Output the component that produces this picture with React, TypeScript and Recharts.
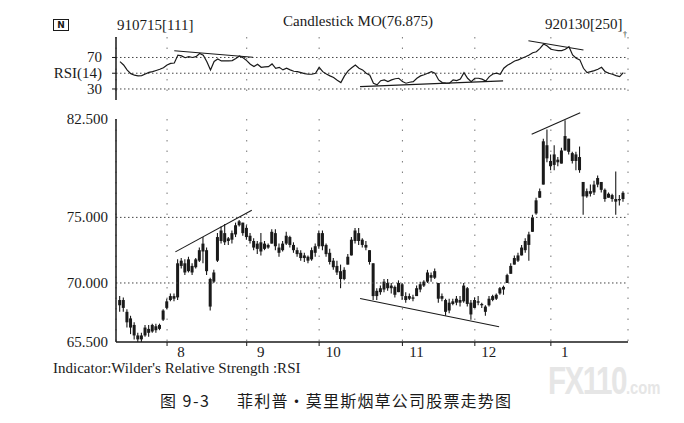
import React from "react"
import { ComposedChart, Bar, Line, XAxis, YAxis, CartesianGrid, ReferenceLine } from "recharts"

const startLabel = "910715[111]"
const endLabel = "920130[250]"
const title = "Candlestick MO(76.875)"

const opens = [
  68.3, 68.7, 67.8, 67.3, 66.8, 66.0, 65.7, 66.0, 66.5, 66.3, 66.7, 66.5, 67.2, 68.1, 68.7, 69.0, 68.9, 71.3, 71.5, 70.9,
  71.3, 71.2, 71.7, 72.4, 72.5, 70.3, 70.1, 71.7, 73.2, 73.8, 73.2, 73.3, 73.7, 74.4, 74.6, 74.2, 73.6, 73.2, 72.6, 73.1,
  72.6, 72.9, 73.0, 73.8, 72.7, 72.5, 73.0, 73.5, 72.9, 72.5, 72.3, 71.9, 72.0, 71.8, 72.3, 72.8, 73.8, 72.9, 72.3, 71.7,
  71.3, 70.9, 70.3, 71.4, 72.1, 73.2, 73.8, 73.3, 72.9, 72.5, 71.5, 69.0, 69.3, 69.5, 70.0, 69.6, 69.7, 69.3, 69.9, 69.0,
  68.8, 68.9, 69.0, 69.5, 69.8, 70.1, 70.6, 70.4, 70.0, 68.8, 68.7, 67.9, 68.4, 68.5, 68.7, 68.6, 69.6, 68.5, 68.1, 68.6,
  68.4, 68.2, 68.3, 68.7, 68.8, 69.2, 69.5, 70.0, 70.7, 71.4, 71.7, 72.1, 72.5, 72.9, 73.9, 75.3, 76.5, 77.5, 80.5, 79.3,
  79.0, 79.4, 79.1, 80.1, 81.0, 79.9, 79.3, 79.6, 77.7, 76.6, 77.0, 76.9, 77.5, 77.7, 77.1, 76.5, 76.7, 76.4, 76.3, 76.4,
]
const highs = [
  69.0, 68.9, 68.0, 67.5, 67.0, 66.2, 66.2, 66.8, 66.8, 66.9, 66.9, 66.9, 68.0, 68.8, 69.2, 69.2, 71.8, 71.9, 71.8, 72.0,
  71.5, 71.9, 72.7, 73.5, 72.7, 70.4, 71.0, 73.8, 74.3, 74.5, 73.5, 74.0, 74.6, 74.8, 74.6, 74.4, 73.8, 73.4, 73.2, 73.8,
  73.2, 73.0, 74.1, 74.1, 73.0, 73.2, 73.9, 73.6, 73.1, 72.7, 72.5, 72.3, 72.1, 72.7, 73.0, 74.0, 74.0, 73.0, 72.6, 71.9,
  71.7, 71.4, 71.2, 72.2, 73.5, 74.2, 74.2, 73.4, 73.2, 72.5, 71.5, 69.6, 69.8, 70.3, 70.3, 70.0, 69.8, 70.2, 70.0, 69.3,
  69.2, 69.1, 69.8, 70.1, 70.2, 71.0, 70.8, 71.1, 70.0, 69.2, 68.8, 68.8, 68.8, 69.0, 69.0, 70.0, 69.7, 68.7, 68.9, 69.0,
  68.5, 68.3, 69.0, 69.1, 69.2, 69.7, 69.8, 70.7, 71.5, 72.1, 72.3, 72.9, 73.4, 73.9, 75.2, 76.5, 77.2, 81.0, 81.7, 79.8,
  80.5, 79.6, 80.3, 82.4, 81.0, 80.0, 80.0, 80.4, 77.7, 77.2, 77.5, 77.8, 78.2, 77.7, 77.2, 76.9, 76.8, 78.5, 76.7, 77.0,
]
const lows = [
  67.8, 67.8, 66.6, 66.1, 65.7, 65.5, 65.5, 65.9, 65.9, 66.2, 66.2, 66.4, 67.1, 68.0, 68.6, 68.6, 68.7, 71.1, 70.6, 70.8,
  70.6, 71.1, 71.6, 71.5, 70.6, 67.9, 70.0, 71.6, 73.0, 72.9, 72.9, 73.0, 73.5, 74.3, 73.6, 73.3, 73.0, 72.5, 72.2, 72.1,
  72.5, 72.6, 73.0, 72.5, 72.0, 72.4, 72.9, 72.7, 72.3, 72.0, 71.7, 71.6, 71.5, 71.7, 72.0, 72.6, 72.5, 72.0, 71.4, 71.0,
  70.6, 69.6, 70.2, 71.4, 72.1, 73.0, 72.9, 72.7, 72.5, 71.4, 68.7, 68.7, 69.1, 69.3, 69.4, 69.2, 68.9, 69.3, 68.7, 68.5,
  68.7, 68.6, 69.0, 69.3, 69.7, 70.0, 70.1, 70.3, 68.5, 68.6, 67.5, 67.7, 68.3, 68.3, 68.2, 68.5, 68.2, 67.2, 68.1, 68.3,
  68.1, 67.5, 68.2, 68.6, 68.7, 69.1, 69.1, 70.0, 70.7, 71.4, 71.6, 72.1, 72.3, 71.7, 73.9, 75.2, 76.5, 77.5, 79.2, 78.6,
  78.6, 78.9, 79.1, 80.1, 79.8, 79.1, 78.6, 78.4, 75.2, 76.5, 76.6, 76.7, 77.3, 76.9, 76.2, 76.5, 76.2, 75.2, 75.9, 76.2,
]
const closes = [
  68.7, 68.1, 67.0, 66.6, 66.0, 65.7, 66.0, 66.6, 66.2, 66.8, 66.4, 66.8, 67.9, 68.6, 69.0, 68.8, 71.5, 71.7, 70.8, 71.8,
  70.8, 71.8, 72.5, 73.0, 70.9, 68.2, 70.8, 73.5, 74.0, 73.1, 73.4, 73.8, 74.4, 74.7, 73.8, 73.5, 73.2, 72.7, 73.0, 72.4,
  73.0, 72.7, 73.9, 72.8, 72.3, 73.0, 73.6, 72.9, 72.5, 72.2, 71.9, 72.1, 71.7, 72.5, 72.8, 73.8, 72.8, 72.2, 71.6, 71.2,
  70.8, 70.3, 71.0, 72.0, 73.3, 74.0, 73.2, 72.9, 72.7, 71.6, 69.0, 69.4, 69.6, 70.1, 69.6, 69.8, 69.1, 70.0, 69.0, 68.7,
  69.0, 68.8, 69.6, 69.9, 70.1, 70.8, 70.4, 70.9, 68.8, 69.0, 67.8, 68.5, 68.6, 68.8, 68.5, 69.8, 68.4, 67.6, 68.7, 68.5,
  68.3, 67.8, 68.8, 69.0, 69.1, 69.6, 69.7, 70.6, 71.3, 71.9, 72.1, 72.7, 73.2, 73.7, 75.0, 76.3, 77.0, 80.8, 79.5, 78.9,
  79.8, 79.2, 80.1, 81.2, 80.0, 79.3, 79.8, 78.6, 76.6, 77.0, 76.8, 77.5, 78.0, 77.1, 76.4, 76.8, 76.4, 76.2, 76.4, 76.875,
]
const rsiValues = [
  64.7, 60.5, 54.0, 49.5, 47.5, 46.6, 46.9, 49.0, 51.0, 52.0, 53.5, 55.0, 57.0, 60.5, 62.5, 63.0, 73.0, 72.0, 69.7, 71.0,
  70.0, 71.0, 75.0, 73.0, 64.7, 54.2, 65.0, 68.0, 65.6, 65.6, 65.6, 66.0, 68.6, 71.9, 69.7, 66.0, 61.4, 58.4, 61.4, 57.5,
  58.0, 58.4, 61.8, 56.3, 57.5, 54.2, 56.3, 54.2, 52.5, 52.0, 50.8, 49.5, 48.7, 48.7, 50.0, 57.5, 52.0, 49.0, 46.6, 44.5,
  41.0, 38.1, 46.6, 53.0, 57.0, 60.5, 56.3, 54.2, 50.0, 47.5, 37.3, 35.2, 40.5, 41.5, 39.4, 41.5, 43.0, 43.6, 39.4, 37.3,
  38.5, 39.4, 43.6, 46.6, 48.0, 50.0, 52.0, 50.0, 41.5, 38.1, 37.5, 37.3, 41.5, 40.7, 42.5, 50.8, 43.6, 39.4, 43.6, 43.6,
  42.5, 40.0, 45.7, 49.0, 50.0, 48.7, 56.3, 60.0, 62.7, 65.6, 67.0, 69.0, 71.0, 73.2, 76.0, 77.3, 81.6, 87.1, 84.6, 80.4,
  79.5, 78.7, 78.7, 80.4, 83.7, 73.2, 69.0, 67.0, 56.3, 50.8, 52.0, 53.3, 55.0, 57.5, 52.0, 50.0, 48.7, 47.0, 45.7, 50.8,
]

const monthTicks = [13, 35, 55, 78, 98, 119]
const monthLabels = ["8", "9", "10", "11", "12", "1"]
const priceTicks = [65.5, 70, 75, 82.5]
const priceGrid = [70, 75]
const rsiTicks = [30, 50, 70]

const priceTrends = [
  [{ x: 15.3, y: 72.37 }, { x: 36.4, y: 75.55 }],
  [{ x: 66.3, y: 68.81 }, { x: 104.7, y: 66.66 }],
  [{ x: 113.7, y: 81.33 }, { x: 127.1, y: 82.98 }],
]
const rsiTrends = [
  [{ x: 15, y: 78.6 }, { x: 36.7, y: 70.3 }],
  [{ x: 66.3, y: 33 }, { x: 105.8, y: 40.3 }],
  [{ x: 112.8, y: 91.3 }, { x: 128, y: 79.5 }],
]

const data = opens.map((o, i) => ({
  i,
  open: o,
  high: highs[i],
  low: lows[i],
  close: closes[i],
  range: [lows[i], highs[i]],
  rsi: rsiValues[i],
}))

const INK = "#1a1a1a"
const SERIF = "'Liberation Serif', 'DejaVu Serif', serif"
const X_DOMAIN = [-1.1, 140.3]

const Candle = (props) => {
  const { x, y, width, height, payload } = props
  const top = Math.min(y, y + height)
  const h = Math.abs(height)
  const cx = x + width / 2
  const span = payload.high - payload.low || 1
  const b1 = top + ((payload.high - Math.max(payload.open, payload.close)) / span) * h
  const b2 = top + ((payload.high - Math.min(payload.open, payload.close)) / span) * h
  return (
    <g>
      <line x1={cx} x2={cx} y1={top} y2={top + h} stroke={INK} strokeWidth={1.1} />
      <rect x={cx - 1.5} y={b1} width={3} height={Math.max(b2 - b1, 1.2)} fill={INK} />
    </g>
  )
}

const MonthTick = ({ x, y, payload }) => {
  const k = monthTicks.indexOf(payload.value)
  return (
    <text x={x + 14} y={y + 9} textAnchor="middle" fontSize={15} style={{ fontFamily: SERIF }} fill={INK}>
      {monthLabels[k]}
    </text>
  )
}

const LeftTick = ({ x, y, payload, fmt }) => (
  <text x={x} y={y + 5} textAnchor="end" fontSize={15} style={{ fontFamily: SERIF }} fill={INK}>
    {fmt(payload.value)}
  </text>
)

const txt = (left, top, s, size = 15, extra = {}) => (
  <div
    style={{
      position: "absolute",
      left,
      top,
      fontFamily: SERIF,
      fontSize: size,
      color: INK,
      whiteSpace: "nowrap",
      lineHeight: 1,
      ...extra,
    }}
  >
    {s}
  </div>
)

export default function App() {
  return (
    <div style={{ position: "absolute", left: 0, top: 0, width: 684, height: 423, background: "#fff", overflow: "hidden" }}>
      {/* header */}
      <div
        style={{
          position: "absolute",
          left: 53,
          top: 19,
          width: 14,
          height: 10,
          border: "1.5px solid " + INK,
          fontFamily: "'DejaVu Sans', sans-serif",
          fontSize: 9,
          fontWeight: "bold",
          lineHeight: "10px",
          textAlign: "center",
          color: INK,
        }}
      >
        N
      </div>
      {txt(117, 18, startLabel)}
      {txt(283, 14, title)}
      {txt(545, 17, endLabel)}
      {txt(623, 31, "†", 8)}

      {/* RSI panel */}
      <div style={{ position: "absolute", left: 0, top: 0 }}>
        <ComposedChart width={684} height={110} data={data} margin={{ top: 37, right: 56, bottom: 10, left: 16 }}>
          <CartesianGrid horizontal={false} stroke="#777" strokeDasharray="1.5 9" />
          <XAxis type="number" dataKey="i" domain={X_DOMAIN} ticks={monthTicks} hide allowDataOverflow />
          <YAxis
            type="number"
            domain={[16, 96]}
            ticks={rsiTicks}
            interval={0}
            width={100}
            axisLine={{ stroke: INK, strokeWidth: 1.5 }}
            tickLine={{ stroke: INK }}
            tickSize={4}
            tickMargin={10}
            tick={<LeftTick fmt={(v) => (v === 50 ? "RSI(14)" : String(v))} />}
            allowDataOverflow
          />
          {rsiTicks.map((v) => (
            <ReferenceLine key={v} y={v} stroke="#444" strokeDasharray="1.5 2.5" />
          ))}
          <Line dataKey="rsi" stroke={INK} strokeWidth={1.2} dot={false} isAnimationActive={false} />
          {rsiTrends.map((s, k) => (
            <ReferenceLine key={k} segment={s} stroke={INK} strokeWidth={1.1} ifOverflow="visible" />
          ))}
        </ComposedChart>
      </div>

      {/* price panel */}
      <div style={{ position: "absolute", left: 0, top: 0 }}>
        <ComposedChart width={684} height={370} data={data} margin={{ top: 119, right: 56, bottom: 0, left: 16 }}>
          <CartesianGrid horizontal={false} stroke="#777" strokeDasharray="1.5 9" />
          <XAxis
            type="number"
            dataKey="i"
            domain={X_DOMAIN}
            ticks={monthTicks}
            interval={0}
            height={28}
            axisLine={{ stroke: INK, strokeWidth: 1.5 }}
            tickLine={{ stroke: INK }}
            tickSize={4}
            tick={<MonthTick />}
            allowDataOverflow
          />
          <YAxis
            type="number"
            domain={[65.5, 82.5]}
            ticks={priceTicks}
            interval={0}
            width={100}
            axisLine={{ stroke: INK, strokeWidth: 1.5 }}
            tickLine={false}
            tickSize={6}
            tickMargin={2}
            tick={<LeftTick fmt={(v) => v.toFixed(3)} />}
            allowDataOverflow
          />
          {priceGrid.map((v) => (
            <ReferenceLine key={v} y={v} stroke="#444" strokeDasharray="1.5 2.5" />
          ))}
          <Bar dataKey="range" barSize={3} shape={<Candle />} isAnimationActive={false} />
          {priceTrends.map((s, k) => (
            <ReferenceLine key={k} segment={s} stroke={INK} strokeWidth={1.1} ifOverflow="visible" />
          ))}
        </ComposedChart>
      </div>

      {txt(53, 361, "Indicator:Wilder's Relative Strength :RSI")}
      <div
        style={{
          position: "absolute",
          left: 548,
          top: 362,
          fontFamily: "'Liberation Sans', sans-serif",
          fontWeight: "bold",
          color: "#e6e6e6",
          whiteSpace: "nowrap",
          lineHeight: 1,
          transform: "scaleX(0.78)",
          transformOrigin: "left top",
        }}
      >
        <span style={{ fontSize: 38, letterSpacing: -2 }}>FX110</span>
        <span style={{ fontSize: 19 }}>.com</span>
      </div>
      {txt(160, 392, "图 9-3", 16, { fontFamily: "'Noto Sans CJK SC', sans-serif", letterSpacing: 1.5 })}
      {txt(237, 392, "菲利普·莫里斯烟草公司股票走势图", 16, {
        fontFamily: "'Noto Sans CJK SC', sans-serif",
        letterSpacing: 1.2,
      })}
    </div>
  )
}
